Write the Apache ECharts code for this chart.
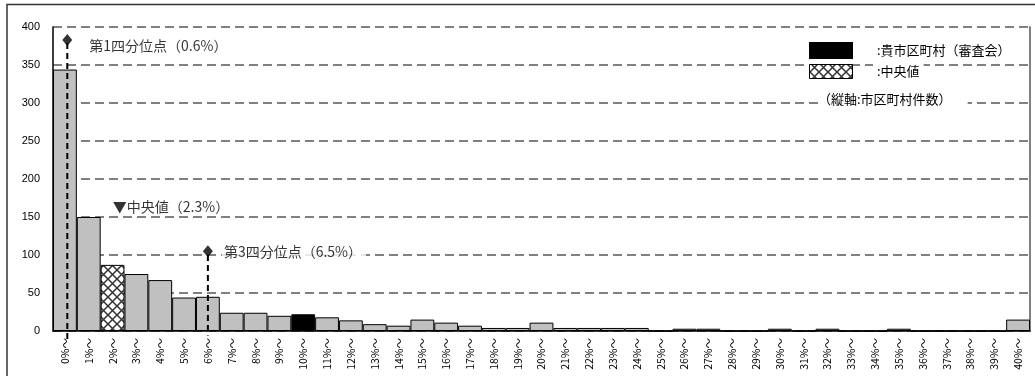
<!DOCTYPE html>
<html><head><meta charset="utf-8">
<script src="https://cdn.jsdelivr.net/npm/echarts@6/dist/echarts.min.js"></script>
<style>html,body{margin:0;padding:0;background:#fff}#c{width:1035px;height:376px}</style>
</head><body><div id="c"></div>
<script>
var categories = ['0%～','1%～','2%～','3%～','4%～','5%～','6%～','7%～','8%～','9%～','10%～','11%～','12%～','13%～','14%～','15%～','16%～','17%～','18%～','19%～','20%～','21%～','22%～','23%～','24%～','25%～','26%～','27%～','28%～','29%～','30%～','31%～','32%～','33%～','34%～','35%～','36%～','37%～','38%～','39%～','40%～'];
var counts = [344,150,87,75,67,44,45,24,24,20,22,18,14,9,7,15,11,7,4,4,11,4,4,4,4,0,3,3,0,0,3,0,3,0,0,3,0,0,0,0,15];
var ownIndex = 10;      // 貴市区町村(審査会)
var medianIndex = 2;    // 中央値 bin
var quartiles = [0.6, 2.3, 6.5];           // Q1, median, Q3 (%)
var quartileLabels = ['第1四分位点（0.6%）', '▼中央値（2.3%）', '第3四分位点（6.5%）'];
var annotY = [383, 163, 105];              // annotation heights (axis units)
var lineBottom = [-14, -6];                // dashed line ends below axis (Q1, Q3)
var yTicks = [0, 400, 50];                 // min, max, interval

var pc = document.createElement('canvas');
pc.width = 9; pc.height = 9;
var g = pc.getContext('2d');
g.fillStyle = '#fff'; g.fillRect(0,0,9,9);
g.strokeStyle = '#333'; g.lineWidth = 1.5;
g.beginPath(); g.moveTo(0,0); g.lineTo(9,9); g.moveTo(9,0); g.lineTo(0,9); g.stroke();
var hatch = {image: pc, repeat: 'repeat'};

var barData = counts.map(function(v, i){
  var col = '#c0c0c0';
  if (i === ownIndex) col = '#000';
  if (i === medianIndex) col = hatch;
  return {value: v, itemStyle: {color: col}};
});

var chart = echarts.init(document.getElementById('c'), null, {renderer: 'canvas'});
var jp = '"Noto Sans CJK JP", sans-serif';
chart.setOption({
  animation: false,
  grid: {left: 53, right: 5, top: 27, bottom: 45},
  xAxis: [{
    type: 'category', data: categories, boundaryGap: true,
    axisLine: {lineStyle: {color: '#000', width: 1.5}},
    axisTick: {inside: true, length: 5, interval: 0, lineStyle: {color: '#000'}},
    axisLabel: {rotate: 90, interval: 0, fontSize: 10.5, color: '#000', margin: 7, fontFamily: jp}
  }, {
    type: 'value', min: 0, max: categories.length, show: false
  }],
  yAxis: [{
    type: 'value', min: yTicks[0], max: yTicks[1], interval: yTicks[2],
    axisLine: {show: true, lineStyle: {color: '#000', width: 1.5}},
    axisTick: {show: false},
    axisLabel: {color: '#000', fontSize: 11, fontFamily: '"Liberation Sans", Arial', margin: 13},
    splitLine: {show: true, lineStyle: {color: '#808080', width: 2, type: [9, 5]}}
  }, {
    type: 'value', min: yTicks[0], max: yTicks[1], position: 'right',
    axisLine: {show: true, lineStyle: {color: '#808080', width: 2}},
    axisTick: {show: false}, axisLabel: {show: false}, splitLine: {show: false}
  }],
  series: [{
    type: 'bar', data: barData, barCategoryGap: 0,
    itemStyle: {borderColor: '#000', borderWidth: 1}
  }, {
    type: 'line', xAxisIndex: 1, clip: false, symbol: 'none', z: 5,
    data: [[quartiles[0], annotY[0] - 4], [quartiles[0], lineBottom[0]]],
    lineStyle: {color: '#000', width: 2, type: [6, 4]}
  }, {
    type: 'line', xAxisIndex: 1, clip: false, symbol: 'none', z: 5,
    data: [[quartiles[2], annotY[2] - 5], [quartiles[2], lineBottom[1]]],
    lineStyle: {color: '#000', width: 2, type: [6, 4]}
  }, {
    type: 'scatter', xAxisIndex: 1, symbol: 'diamond', symbolSize: [10, 12], z: 6,
    itemStyle: {color: '#000'},
    label: {show: true, position: 'right', color: '#000', fontSize: 14, fontFamily: jp,
      backgroundColor: '#fff', padding: [1, 4, 1, 2],
      formatter: function(p){ return p.data.name; }},
    data: [
      {value: [quartiles[0], annotY[0]], name: quartileLabels[0], label: {offset: [10, 6]}},
      {value: [quartiles[2], annotY[2]], name: quartileLabels[2], label: {offset: [4, 0]}},
      {value: [quartiles[1], annotY[1]], name: quartileLabels[1], symbolSize: 0, label: {offset: [0, 0], distance: 3, padding: [1, 8, 1, 2]}}
    ]
  }],
  graphic: [
    {type: 'rect', z: 100, shape: {x: 7, y: 4.5, width: 1100, height: 400}, style: {fill: 'none', stroke: '#333', lineWidth: 1.5}, silent: true},
    {type: 'text', z: 100, left: 873, top: 43, style: {text: ':貴市区町村（審査会）', fill: '#000', font: '13px ' + jp, backgroundColor: '#fff', padding: [1, 12, 1, 4]}},
    {type: 'text', z: 100, left: 873, top: 64, style: {text: ':中央値', fill: '#000', font: '13px ' + jp, backgroundColor: '#fff', padding: [1, 4, 1, 4]}},
    {type: 'text', z: 100, left: 818, top: 92, style: {text: '（縦軸:市区町村件数）', fill: '#000', font: '13px ' + jp, backgroundColor: '#fff', padding: [1, 16, 1, 0]}},
    {type: 'rect', z: 100, shape: {x: 809, y: 42, width: 44, height: 17}, style: {fill: '#000'}},
    {type: 'rect', z: 100, shape: {x: 809.5, y: 64.5, width: 43, height: 14}, style: {fill: hatch, stroke: '#000', lineWidth: 1}}
  ]
});
</script></body></html>
